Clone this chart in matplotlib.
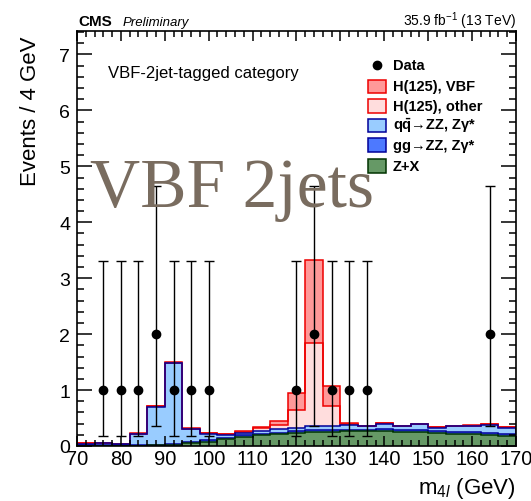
import numpy as np
import matplotlib
matplotlib.use("Agg")
import matplotlib.pyplot as plt
from matplotlib.patches import Rectangle
from matplotlib.ticker import MultipleLocator

plt.rcParams['font.family'] = ['Liberation Sans', 'DejaVu Sans']
plt.rcParams['mathtext.fontset'] = 'custom'
plt.rcParams['mathtext.rm'] = 'Liberation Sans'
plt.rcParams['mathtext.it'] = 'Liberation Sans:italic'
plt.rcParams['mathtext.bf'] = 'Liberation Sans:bold'

# binning: 4 GeV bins from 70 to 170
edges = np.arange(70, 171, 4)

# stacked components, per bin
zx = [0.00, 0.00, 0.00, 0.005, 0.01, 0.02, 0.05, 0.08, 0.12, 0.16, 0.19, 0.21, 0.24,
      0.25, 0.25, 0.26, 0.26, 0.26, 0.25, 0.25, 0.23, 0.21, 0.21, 0.19, 0.17]
gg_zz = [0.01, 0.01, 0.01, 0.01, 0.01, 0.02, 0.02, 0.02, 0.02, 0.03, 0.03, 0.03, 0.03,
         0.03, 0.03, 0.03, 0.03, 0.04, 0.04, 0.04, 0.04, 0.04, 0.04, 0.04, 0.04]
qq_zz = [0.03, 0.04, 0.02, 0.195, 0.68, 1.44, 0.23, 0.12, 0.06, 0.05, 0.055, 0.06, 0.06,
         0.07, 0.08, 0.08, 0.06, 0.10, 0.06, 0.10, 0.06, 0.10, 0.11, 0.15, 0.12]
h_other = [0.005, 0.005, 0.005, 0.01, 0.01, 0.01, 0.01, 0.01, 0.01, 0.01, 0.04, 0.07, 0.31,
           1.50, 0.36, 0.03, 0.01, 0.005, 0.005, 0.005, 0.005, 0.005, 0.005, 0.005, 0.005]
h_vbf = [0.002, 0.002, 0.002, 0.01, 0.01, 0.01, 0.01, 0.01, 0.01, 0.01, 0.03, 0.07, 0.30,
         1.47, 0.35, 0.015, 0.005, 0.003, 0.003, 0.003, 0.003, 0.003, 0.003, 0.003, 0.003]

# observed data
data_x = [76, 80, 84, 88, 92, 96, 100, 120, 124, 128, 132, 136, 164]
data_y = [1, 1, 1, 2, 1, 1, 1, 1, 2, 1, 1, 1, 2]
err_lo = [0.827, 0.827, 0.827, 1.645, 0.827, 0.827, 0.827, 0.827, 1.645, 0.827, 0.827, 0.827, 1.645]
err_hi = [2.30, 2.30, 2.30, 2.64, 2.30, 2.30, 2.30, 2.30, 2.64, 2.30, 2.30, 2.30, 2.64]

# (values, fill, edge, label) from bottom to top
layers = [
    (zx, '#669966', '#003300', 'Z+X'),
    (gg_zz, '#4d79ff', '#000099', 'gg\u2192ZZ, Z\u03b3*'),
    (qq_zz, '#99ccff', '#000099', 'q$\\mathbf{\\bar{q}}$\u2192ZZ, Z\u03b3*'),
    (h_other, '#ffdddd', '#ee0000', 'H(125), other'),
    (h_vbf, '#ff9999', '#ee0000', 'H(125), VBF'),
]

fig = plt.figure(figsize=(5.31, 5.02), dpi=100)
ax = fig.add_axes([77/531, 1-447/502, 439/531, 415/502])

cum = np.cumsum([np.array(v) for v, _, _, _ in layers], axis=0)
for i in range(len(layers)-1, -1, -1):
    _, fc, ec, _ = layers[i]
    ax.stairs(cum[i], edges, baseline=0, fill=True, color=fc, zorder=1)
    ax.stairs(cum[i], edges, baseline=0, color=ec, lw=1.1, zorder=1.1)

ax.errorbar(data_x, data_y, yerr=[err_lo, err_hi], fmt='o', color='black',
            ms=6, lw=1, capsize=3.5, capthick=1, zorder=3)

ax.set_xlim(70, 170)
ax.set_ylim(0, 7.42)
ax.xaxis.set_major_locator(MultipleLocator(10))
ax.xaxis.set_minor_locator(MultipleLocator(2))
ax.yaxis.set_major_locator(MultipleLocator(1))
ax.yaxis.set_minor_locator(MultipleLocator(0.2))
ax.tick_params(which='both', direction='in', top=True, right=True, width=1.1, color='black')
ax.tick_params(axis='y', which='major', length=10.5, labelsize=14, pad=5)
ax.tick_params(axis='y', which='minor', length=5)
ax.tick_params(axis='x', which='major', length=7.5, labelsize=14.5, pad=2)
ax.tick_params(axis='x', which='minor', length=4)
for s in ax.spines.values():
    s.set_linewidth(1.2)

ax.set_ylabel('Events / 4 GeV', fontsize=16)
ax.yaxis.set_label_coords(-0.082, 0.81)
ax.set_xlabel(r'm$_{4\mathit{l}}$ (GeV)', fontsize=16, ha='right')
ax.xaxis.set_label_coords(1.0, -0.07)

# header
fig.text(78/531, 1-26/502, 'CMS', fontsize=11, fontweight='bold', va='baseline')
fig.text(123/531, 1-26/502, 'Preliminary', fontsize=9.5, style='italic', va='baseline')
fig.text(516/531, 1-26/502, r'35.9 fb$^{-1}$ (13 TeV)', fontsize=10, ha='right', va='baseline')

ax.text(0.07, 0.9, 'VBF-2jet-tagged category', transform=ax.transAxes,
        fontsize=12, va='center')

# legend
leg_y = [0.918, 0.867, 0.819, 0.773, 0.725, 0.675]
ax.plot([0.683], [leg_y[0]], 'o', color='black', ms=6, transform=ax.transAxes, clip_on=False)
ax.text(0.720, leg_y[0], 'Data', transform=ax.transAxes, fontsize=10.5,
        fontweight='bold', va='center')
for k, (_, fc, ec, lab) in enumerate(reversed(layers)):
    y = leg_y[k+1]
    ax.add_patch(Rectangle((0.663, y-0.016), 0.041, 0.032, transform=ax.transAxes,
                           facecolor=fc, edgecolor=ec, lw=1.1, zorder=4))
    ax.text(0.720, y, lab, transform=ax.transAxes, fontsize=10.5,
            fontweight='bold', va='center')

# watermark
fig.text(90/531, 1-207/502, 'VBF 2jets', fontsize=50, family='Liberation Serif',
         color='#796c5f', va='baseline', ha='left')

fig.savefig('out.png', dpi=100)
